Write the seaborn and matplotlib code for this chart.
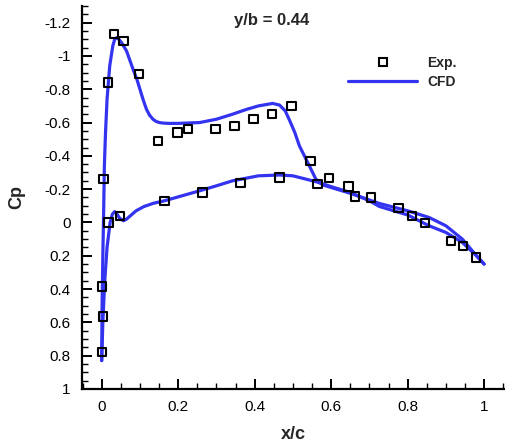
import matplotlib
matplotlib.use("Agg")
import matplotlib.pyplot as plt
import seaborn as sns
import pandas as pd
from matplotlib.ticker import MultipleLocator
from matplotlib.lines import Line2D

# Experimental pressure taps (x/c, Cp)
exp_x = [0.000, 0.003, 0.000, 0.018, 0.047, 0.005, 0.016, 0.032, 0.057, 0.097,
         0.148, 0.198, 0.225, 0.298, 0.347, 0.397, 0.446, 0.496, 0.546, 0.564,
         0.595, 0.645, 0.663, 0.705, 0.776, 0.812, 0.846, 0.914, 0.945, 0.979,
         0.164, 0.264, 0.363, 0.465]
exp_cp = [0.78, 0.565, 0.385, 0.00, -0.04, -0.26, -0.84, -1.13, -1.09, -0.89,
          -0.49, -0.54, -0.56, -0.56, -0.58, -0.62, -0.65, -0.70, -0.37, -0.23,
          -0.265, -0.215, -0.155, -0.15, -0.085, -0.04, 0.005, 0.11, 0.14, 0.21,
          -0.13, -0.18, -0.235, -0.27]

# CFD upper surface
cfd_up_x = [0.000, 0.001, 0.003, 0.005, 0.007, 0.010, 0.014, 0.021, 0.029, 0.034,
            0.039, 0.045, 0.052, 0.065, 0.082, 0.092, 0.100, 0.108, 0.117, 0.125,
            0.134, 0.142, 0.151, 0.160, 0.175, 0.200, 0.256, 0.300, 0.342, 0.380,
            0.410, 0.447, 0.465, 0.480, 0.490, 0.505, 0.517, 0.530, 0.543, 0.560,
            0.578, 0.600, 0.650, 0.700, 0.726, 0.800, 0.856, 0.900, 0.943, 0.980,
            1.000]
cfd_up_cp = [0.83, 0.50, 0.20, -0.05, -0.34, -0.54, -0.74, -0.94, -1.06, -1.10,
             -1.11, -1.10, -1.08, -1.03, -0.92, -0.86, -0.80, -0.74, -0.68, -0.645,
             -0.62, -0.607, -0.60, -0.597, -0.595, -0.595, -0.60, -0.62, -0.65, -0.68,
             -0.70, -0.715, -0.705, -0.67, -0.62, -0.54, -0.46, -0.40, -0.34, -0.26,
             -0.225, -0.21, -0.175, -0.135, -0.114, -0.07, -0.03, 0.02, 0.10, 0.20,
             0.25]

# CFD lower surface
cfd_lo_x = [0.000, 0.003, 0.008, 0.014, 0.022, 0.028, 0.034, 0.040, 0.047, 0.057,
            0.065, 0.075, 0.090, 0.110, 0.135, 0.164, 0.210, 0.256, 0.300, 0.342,
            0.410, 0.465, 0.500, 0.560, 0.600, 0.650, 0.700, 0.726, 0.800, 0.856,
            0.900, 0.943, 0.980, 1.000]
cfd_lo_cp = [0.83, 0.60, 0.35, 0.15, 0.00, -0.05, -0.065, -0.05, -0.025, -0.01,
             -0.02, -0.04, -0.07, -0.095, -0.115, -0.13, -0.16, -0.19, -0.22, -0.25,
             -0.28, -0.285, -0.28, -0.245, -0.215, -0.18, -0.13, -0.096, -0.045, 0.02,
             0.06, 0.12, 0.20, 0.25]

sns.set_style("white")
plt.rcParams['font.family'] = ['Liberation Sans', 'DejaVu Sans']

fig = plt.figure(figsize=(5.05, 4.46), dpi=100)
ax = fig.add_axes([0.162, 0.128, 0.836, 0.8585])

blue = "#3333f0"
sns.lineplot(x=cfd_up_x, y=cfd_up_cp, sort=False, estimator=None, ax=ax,
             color=blue, linewidth=2.3)
sns.lineplot(x=cfd_lo_x, y=cfd_lo_cp, sort=False, estimator=None, ax=ax,
             color=blue, linewidth=2.3)
exp_df = pd.DataFrame({"x": exp_x, "cp": exp_cp})
sns.scatterplot(data=exp_df, x="x", y="cp", ax=ax, marker="s", s=36,
                facecolor="none", edgecolor="black", linewidth=1.5, zorder=3)

ax.set_xlim(-0.052, 1.052)
ax.set_ylim(1.0, -1.3)
ax.xaxis.set_minor_locator(MultipleLocator(0.05))
ax.yaxis.set_minor_locator(MultipleLocator(0.05))
ax.set_xticks([0, 0.2, 0.4, 0.6, 0.8, 1.0])
ax.set_xticklabels(["0", "0.2", "0.4", "0.6", "0.8", "1"])
yt = [-1.2, -1.0, -0.8, -0.6, -0.4, -0.2, 0, 0.2, 0.4, 0.6, 0.8, 1.0]
ax.set_yticks(yt)
ax.set_yticklabels(["-1.2", "-1", "-0.8", "-0.6", "-0.4", "-0.2", "0",
                    "0.2", "0.4", "0.6", "0.8", "1"])

for s in ["top", "right"]:
    ax.spines[s].set_visible(False)
for s in ["left", "bottom"]:
    ax.spines[s].set_linewidth(1.6)
    ax.spines[s].set_color("black")

ax.tick_params(which="major", direction="in", length=7, width=1.4,
               labelsize=11, pad=8, colors="black")
ax.tick_params(which="minor", direction="in", length=4, width=1.0, colors="black")
ax.tick_params(axis="both", which="both", bottom=True, left=True)

ax.set_xlabel("x/c", fontsize=13, fontweight="bold")
ax.set_ylabel("Cp", fontsize=13, fontweight="bold")
ax.xaxis.set_label_coords(0.5, -0.097)
ax.yaxis.set_label_coords(-0.133, 0.5)

ax.text(0.45, 0.963, "y/b = 0.44", transform=ax.transAxes, ha="center",
        va="center", fontsize=12, fontweight="bold")

handles = [Line2D([], [], linestyle="none", marker="s", markersize=6,
                  markerfacecolor="none", markeredgecolor="black",
                  markeredgewidth=1.5),
           Line2D([], [], color=blue, linewidth=2.3)]
ax.legend(handles, ["Exp.", "CFD"], loc="upper left",
          bbox_to_anchor=(0.63, 0.87), frameon=False, handlelength=5.0,
          handletextpad=0.7, borderpad=0, borderaxespad=0, labelspacing=0.35,
          prop={"weight": "bold", "size": 10})

fig.savefig("out.png", dpi=100)
